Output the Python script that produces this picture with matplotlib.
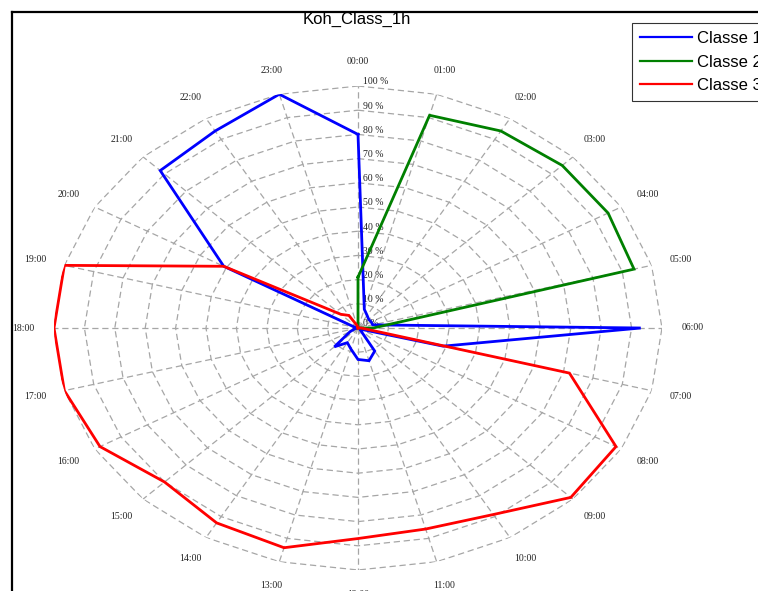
import numpy as np
import matplotlib
matplotlib.use("Agg")
import matplotlib.pyplot as plt
from matplotlib.lines import Line2D

# ---- data ----
hours = ["00:00", "01:00", "02:00", "03:00", "04:00", "05:00", "06:00", "07:00",
         "08:00", "09:00", "10:00", "11:00", "12:00", "13:00", "14:00", "15:00",
         "16:00", "17:00", "18:00", "19:00", "20:00", "21:00", "22:00", "23:00"]
classe1 = [80, 8, 6, 5, 5, 5, 93, 29, 1, 1, 11, 14, 13, 9, 7, 11, 3, 1, 0, 1, 51, 92, 94, 100]
classe2 = [21, 91, 94, 95, 95, 94, 5, 0, 0, 0, 0, 0, 0, 0, 0, 0, 0, 0, 0, 0, 0, 0, 0, 0]
classe3 = [0, 0, 0, 0, 0, 0, 1, 72, 98, 99, 89, 86, 87, 94, 93, 90, 98, 100, 100, 100, 51, 8, 6, 1]
series_names = ["Classe 1", "Classe 2", "Classe 3"]
series_colors = ["#0000ff", "#008000", "#ff0000"]
ring_levels = [0, 10, 20, 30, 40, 50, 60, 70, 80, 90, 100]
ring_labels = ["0 %", "10 %", "20 %", "30 %", "40 %", "50 %", "60 %", "70 %", "80 %", "90 %", "100 %"]
title = "Koh_Class_1h"

W, H = 758, 591
fig = plt.figure(figsize=(W / 100, H / 100), dpi=100)
fig.patch.set_facecolor("white")

# polar axes stretched into an ellipse
cx, cy, rx, ry = 358, 328, 304, 242
ax = fig.add_axes([(cx - rx) / W, (H - (cy + ry)) / H, 2 * rx / W, 2 * ry / H],
                  projection="polar")
ax.set_theta_zero_location("N")
ax.set_theta_direction(-1)
ax.set_ylim(0, 100)
ax.grid(False)
ax.set_xticks([])
ax.set_yticks([])
ax.spines["polar"].set_visible(False)
ax.patch.set_alpha(0)

n = len(hours)
theta = np.arange(n) * 2 * np.pi / n
theta_closed = np.append(theta, theta[0])

grid_kw = dict(color="#a6a6a6", lw=0.9, dashes=(5, 3), zorder=1)
# polygonal rings
for lvl in ring_levels[1:]:
    ax.plot(theta_closed, [lvl] * (n + 1), **grid_kw)
# spokes
for t in theta:
    ax.plot([t, t], [0, 100], **grid_kw)

# ring labels
for lvl, lab in zip(ring_levels, ring_labels):
    ax.annotate(lab, xy=(0, lvl), xytext=(3.5, 3), textcoords="offset points",
                ha="left", va="center", fontsize=7, family="Liberation Serif",
                color="#222222", zorder=2)

# hour labels
for t, lab in zip(theta, hours):
    ax.text(t, 110, lab, ha="center", va="center", fontsize=7,
            family="Liberation Serif", color="#222222")

# data
for vals, name, col in zip([classe1, classe2, classe3], series_names, series_colors):
    v = np.append(vals, vals[0])
    ax.plot(theta_closed, v, color=col, lw=2.0, zorder=3, label=name,
            solid_joinstyle="miter")

ax.set_aspect("auto")

# title
fig.text(357 / W, 1 - 19 / H, title, ha="center", va="center", fontsize=12,
         family="Liberation Sans")

# frame (top and left edges of the chart area)
fig.add_artist(Line2D([11.5 / W, 1.0], [1 - 11.5 / H, 1 - 11.5 / H],
                      transform=fig.transFigure, color="black", lw=1.6))
fig.add_artist(Line2D([11.5 / W, 11.5 / W], [0.0, 1 - 11.5 / H],
                      transform=fig.transFigure, color="black", lw=1.6))

# legend
handles = [Line2D([], [], color=c, lw=1.6) for c in series_colors]
leg = fig.legend(handles, series_names, loc="upper left",
                 bbox_to_anchor=(632 / W, 1 - 23 / H),
                 prop={"family": "Liberation Sans", "size": 12},
                 frameon=True, fancybox=False, shadow=False,
                 handlelength=3.1, handletextpad=0.3, borderpad=0.5,
                 labelspacing=0.5, borderaxespad=0)
leg.get_frame().set_edgecolor("black")
leg.get_frame().set_linewidth(0.8)

fig.savefig("out.png", dpi=100, facecolor="white")
